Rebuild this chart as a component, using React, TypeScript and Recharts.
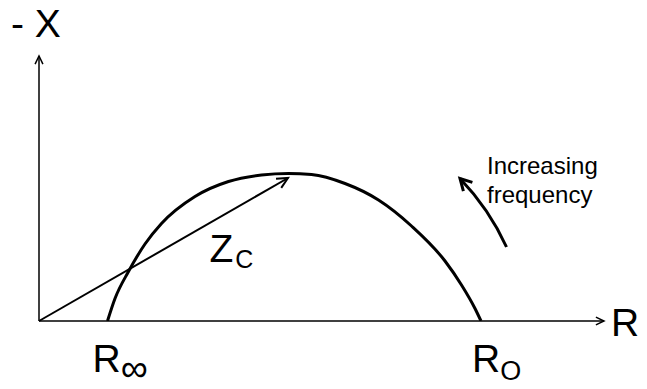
import React from 'react';
import { ComposedChart, Line, XAxis, YAxis, ReferenceLine, ReferenceDot } from 'recharts';

// Cole arc: resistance R vs. reactance -X (arbitrary units)
const arcR = [13.7, 15.2, 17.9, 21.2, 24.5, 31.2, 37.9, 44.5, 49.9, 54.5, 61.2, 67.9, 74.5, 81.2, 84.5, 87.2, 88.4];
const arcMinusX = [0, 4.5, 9.9, 15.4, 19.5, 24.9, 27.9, 29.2, 29.5, 29.3, 27.5, 24.2, 19.0, 12.0, 7.2, 2.5, 0];

const rInf = 13.7;
const rZero = 88.4;
const zcTip = { x: 49.8, y: 28.6 };
const freqTail = { x: 93.5, y: 14.8 };
const freqTip = { x: 84.2, y: 28.5 };
const axisMaxR = 113;
const axisMaxX = 53;

const arcData = arcR.map((r, i) => ({ x: r, y: arcMinusX[i] }));

const FONT = '"Liberation Sans", Arial, sans-serif';

// open arrow head ending at (x2, y2)
const head = (x1: number, y1: number, x2: number, y2: number, len: number, spread = 0.45) => {
  const a = Math.atan2(y2 - y1, x2 - x1);
  const p = (s: number) => `${x2 - len * Math.cos(a + s)},${y2 - len * Math.sin(a + s)}`;
  return `M${p(spread)}L${x2},${y2}L${p(-spread)}`;
};

const arrowShape = (width: number, len: number) => (props: any) => {
  const { x1, y1, x2, y2 } = props;
  return (
    <g fill="none" stroke="#000" strokeWidth={width}>
      <line x1={x1} y1={y1} x2={x2} y2={y2} />
      <path d={head(x1, y1, x2, y2, len)} />
    </g>
  );
};

// slightly bowed arrow for "increasing frequency"
const curvedArrow = (props: any) => {
  const { x1, y1, x2, y2 } = props;
  const dx = x2 - x1;
  const dy = y2 - y1;
  const l = Math.hypot(dx, dy);
  const cx = (x1 + x2) / 2 - (dy / l) * 7;
  const cy = (y1 + y2) / 2 + (dx / l) * 7;
  return (
    <g fill="none" stroke="#000" strokeWidth={3}>
      <path d={`M${x1},${y1}Q${cx},${cy} ${x2},${y2}`} />
      <path d={head(cx, cy, x2, y2, 13, 0.5)} />
    </g>
  );
};

const label = (dx: number, dy: number, content: React.ReactNode, size = 39) => (props: any) => (
  <text x={props.cx + dx} y={props.cy + dy} fontFamily={FONT} fontSize={size} fill="#000">
    {content}
  </text>
);

export default function App() {
  return (
    <div style={{ position: 'absolute', left: 0, top: 0, background: '#fff' }}>
      <ComposedChart width={647} height={389} margin={{ top: 51, right: 38, bottom: 68, left: 39 }}>
        <XAxis type="number" dataKey="x" domain={[0, 114]} hide allowDataOverflow />
        <YAxis type="number" domain={[0, 54]} hide allowDataOverflow />

        <ReferenceLine segment={[{ x: 0, y: 0 }, { x: axisMaxR, y: 0 }]} shape={arrowShape(1.5, 9)} ifOverflow="visible" />
        <ReferenceLine segment={[{ x: 0, y: 0 }, { x: 0, y: axisMaxX }]} shape={arrowShape(1.5, 9)} ifOverflow="visible" />

        <Line data={arcData} dataKey="y" type="monotone" stroke="#000" strokeWidth={3} dot={false} isAnimationActive={false} />

        <ReferenceLine segment={[{ x: 0, y: 0 }, zcTip]} shape={arrowShape(2, 12)} ifOverflow="visible" />
        <ReferenceLine segment={[freqTail, freqTip]} shape={curvedArrow} ifOverflow="visible" />

        <ReferenceDot x={0} y={axisMaxX} r={0} ifOverflow="visible" shape={label(-28, -19, '- X')} />
        <ReferenceDot x={axisMaxR} y={0} r={0} ifOverflow="visible" shape={label(7, 15, 'R')} />
        <ReferenceDot
          x={rInf}
          y={0}
          r={0}
          ifOverflow="visible"
          shape={label(-15, 51, <>R<tspan fontSize={38} dy={9}>∞</tspan></>)}
        />
        <ReferenceDot
          x={rZero}
          y={0}
          r={0}
          ifOverflow="visible"
          shape={label(-9, 51, <>R<tspan fontSize={27} dy={8}>O</tspan></>)}
        />
        <ReferenceDot
          x={zcTip.x / 2}
          y={zcTip.y / 2}
          r={0}
          ifOverflow="visible"
          shape={label(46, 12, <>Z<tspan fontSize={25} dx={2} dy={6}>C</tspan></>, 39)}
        />
        <ReferenceDot
          x={freqTip.x}
          y={freqTip.y}
          r={0}
          ifOverflow="visible"
          shape={(p: any) => (
            <text x={p.cx + 27} y={p.cy - 5} fontFamily={FONT} fontSize={24} fill="#000">
              <tspan x={p.cx + 27}>Increasing</tspan>
              <tspan x={p.cx + 27} dy={29}>frequency</tspan>
            </text>
          )}
        />
      </ComposedChart>
    </div>
  );
}
